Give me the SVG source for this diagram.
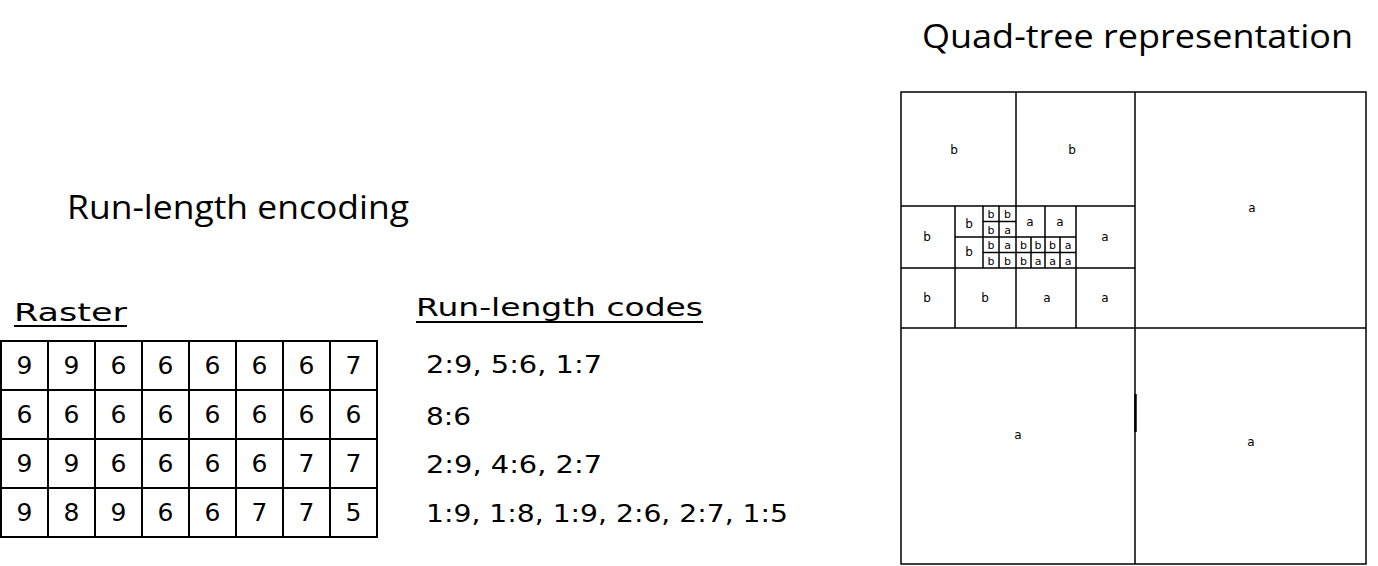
<svg xmlns="http://www.w3.org/2000/svg" width="1378" height="566" viewBox="0 0 1378 566">
<style>
.title{font-family:"Open Sans","DejaVu Sans",sans-serif;font-size:32px;fill:#000}
.comic{font-family:"DejaVu Sans",sans-serif;font-size:25px;fill:#000}
.dig{font-family:"DejaVu Sans",sans-serif;font-size:25px;fill:#000;text-anchor:middle}
.q{font-family:"DejaVu Sans",sans-serif;font-size:12px;fill:#000;text-anchor:middle}
.qs{font-family:"DejaVu Sans",sans-serif;font-size:11px;fill:#000;text-anchor:middle}
.ln{stroke:#000;stroke-width:1.5;fill:none}
.grid{stroke:#000;stroke-width:2;fill:none}
</style>
<rect width="1378" height="566" fill="#fff"/>
<g id="headings">
<text class="title" x="67" y="219" textLength="342" lengthAdjust="spacingAndGlyphs">Run-length encoding</text>
<text class="title" x="922" y="48" textLength="431" lengthAdjust="spacingAndGlyphs">Quad-tree representation</text>
</g>
<g id="raster">
<text class="comic" x="14" y="321" textLength="113" lengthAdjust="spacingAndGlyphs">Raster</text>
<line x1="14" y1="326" x2="127" y2="326" stroke="#000" stroke-width="2"/>
<rect class="grid" x="1" y="341" width="376" height="196"/>
<path class="grid" d="M48 341V537M95 341V537M142 341V537M189 341V537M236 341V537M283 341V537M330 341V537M1 390H377M1 439H377M1 488H377"/>
<g>
<text class="dig" x="24.5" y="374">9</text><text class="dig" x="71.5" y="374">9</text><text class="dig" x="118.5" y="374">6</text><text class="dig" x="165.5" y="374">6</text><text class="dig" x="212.5" y="374">6</text><text class="dig" x="259.5" y="374">6</text><text class="dig" x="306.5" y="374">6</text><text class="dig" x="353.5" y="374">7</text>
<text class="dig" x="24.5" y="423">6</text><text class="dig" x="71.5" y="423">6</text><text class="dig" x="118.5" y="423">6</text><text class="dig" x="165.5" y="423">6</text><text class="dig" x="212.5" y="423">6</text><text class="dig" x="259.5" y="423">6</text><text class="dig" x="306.5" y="423">6</text><text class="dig" x="353.5" y="423">6</text>
<text class="dig" x="24.5" y="472">9</text><text class="dig" x="71.5" y="472">9</text><text class="dig" x="118.5" y="472">6</text><text class="dig" x="165.5" y="472">6</text><text class="dig" x="212.5" y="472">6</text><text class="dig" x="259.5" y="472">6</text><text class="dig" x="306.5" y="472">7</text><text class="dig" x="353.5" y="472">7</text>
<text class="dig" x="24.5" y="521">9</text><text class="dig" x="71.5" y="521">8</text><text class="dig" x="118.5" y="521">9</text><text class="dig" x="165.5" y="521">6</text><text class="dig" x="212.5" y="521">6</text><text class="dig" x="259.5" y="521">7</text><text class="dig" x="306.5" y="521">7</text><text class="dig" x="353.5" y="521">5</text>
</g>
</g>
<g id="codes">
<text class="comic" x="416" y="316" textLength="287" lengthAdjust="spacingAndGlyphs">Run-length codes</text>
<line x1="416" y1="322" x2="703" y2="322" stroke="#000" stroke-width="2"/>
<text class="comic" x="426" y="373" textLength="176" lengthAdjust="spacingAndGlyphs">2:9, 5:6, 1:7</text>
<text class="comic" x="426" y="425" textLength="45" lengthAdjust="spacingAndGlyphs">8:6</text>
<text class="comic" x="426" y="473" textLength="176" lengthAdjust="spacingAndGlyphs">2:9, 4:6, 2:7</text>
<text class="comic" x="426" y="522" textLength="362" lengthAdjust="spacingAndGlyphs">1:9, 1:8, 1:9, 2:6, 2:7, 1:5</text>
</g>
<g id="quadtree">
<rect class="ln" x="901" y="92" width="465" height="472"/>
<path class="ln" d="M1135 92V564M901 328H1366M1016 92V328M901 206H1135M901 268H1135M955 206V328M1076 206V328M983 206V268M955 237H1076M999 206V268M983 221.5H1016M1045 206V268M1031 237V268M1060 237V268M983 252.5H1076"/>
<line x1="1135.5" y1="394" x2="1135.5" y2="432" stroke="#000" stroke-width="2.5"/>
<text class="q" x="954" y="154">b</text>
<text class="q" x="1072" y="154">b</text>
<text class="q" x="1252" y="212">a</text>
<text class="q" x="927" y="241">b</text>
<text class="q" x="969" y="228">b</text>
<text class="q" x="969" y="256">b</text>
<text class="qs" x="991" y="218">b</text><text class="qs" x="1007.5" y="218">b</text>
<text class="qs" x="991" y="233.5">b</text><text class="qs" x="1007.5" y="233.5">a</text>
<text class="q" x="1030" y="226">a</text>
<text class="q" x="1060" y="226">a</text>
<text class="q" x="1105" y="241">a</text>
<text class="qs" x="991" y="249">b</text><text class="qs" x="1007.5" y="249">a</text><text class="qs" x="1023.5" y="249">b</text><text class="qs" x="1038" y="249">b</text><text class="qs" x="1052.5" y="249">b</text><text class="qs" x="1068" y="249">a</text>
<text class="qs" x="991" y="264.5">b</text><text class="qs" x="1007.5" y="264.5">b</text><text class="qs" x="1023.5" y="264.5">b</text><text class="qs" x="1038" y="264.5">a</text><text class="qs" x="1052.5" y="264.5">a</text><text class="qs" x="1068" y="264.5">a</text>
<text class="q" x="927" y="302">b</text>
<text class="q" x="985" y="302">b</text>
<text class="q" x="1047" y="302">a</text>
<text class="q" x="1105" y="302">a</text>
<text class="q" x="1018" y="439">a</text>
<text class="q" x="1251" y="446">a</text>
</g>
</svg>
